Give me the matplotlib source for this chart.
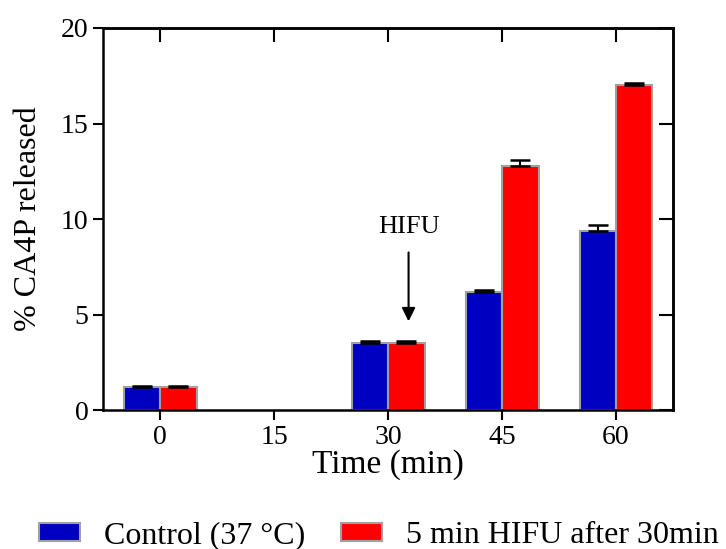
import numpy as np
import matplotlib
matplotlib.use("Agg")
import matplotlib.pyplot as plt
from matplotlib.patches import Patch

plt.rcParams['font.family'] = ['Liberation Serif', 'DejaVu Serif']

# ── data ──
times = ["0", "15", "30", "45", "60"]
control = [1.2, np.nan, 3.5, 6.2, 9.4]
control_err = [0.05, np.nan, 0.1, 0.08, 0.3]
hifu = [1.2, np.nan, 3.5, 12.8, 17.0]
hifu_err = [0.05, np.nan, 0.12, 0.3, 0.12]
labels = ["Control (37 °C)", "5 min HIFU after 30min"]

BLUE = "#0000c0"
RED = "#ff0000"
EDGE = "#a0a0a0"

fig = plt.figure(figsize=(7.26, 5.49), dpi=100)
ax = fig.add_axes([0.142, 0.253, 0.785, 0.696])

x = np.arange(len(times))
w = 0.32
for vals, errs, off, col in [(control, control_err, -w / 2, BLUE),
                             (hifu, hifu_err, w / 2, RED)]:
    vals = np.array(vals)
    errs = np.array(errs)
    ax.bar(x + off, vals, width=w, color=col, edgecolor=EDGE, linewidth=1.5, zorder=2)
    ax.errorbar(x + off, vals, yerr=[np.zeros_like(errs), errs], fmt='none',
                ecolor='k', elinewidth=1.5, capsize=7, capthick=1.8, zorder=3)

ax.set_xlim(-0.5, 4.5)
ax.set_ylim(0, 20)
ax.set_xticks(x)
ax.set_xticklabels(times)
ax.set_yticks([0, 5, 10, 15, 20])
ax.tick_params(axis='both', labelsize=20, width=1.5, length=7, direction='out')
for s in ax.spines.values():
    s.set_linewidth(1.8)

# top / right ticks pointing inward
top = ax.secondary_xaxis('top')
top.set_xticks(x)
top.tick_params(direction='in', length=10, width=1.5, labeltop=False)
top.spines['top'].set_linewidth(1.8)
right = ax.secondary_yaxis('right')
right.set_yticks([0, 5, 10, 15, 20])
right.tick_params(direction='in', length=10, width=1.5, labelright=False)
right.spines['right'].set_linewidth(1.8)

ax.set_xlabel("Time (min)", fontsize=24, labelpad=0)
ax.set_ylabel("% CA4P released", fontsize=23, labelpad=13)

# HIFU marker
ax.annotate("", xy=(2.18, 4.5), xytext=(2.18, 8.4),
            arrowprops=dict(arrowstyle='-|>', color='k', lw=1.5, mutation_scale=20))
ax.text(2.18, 9.6, "HIFU", ha='center', va='center', fontsize=19)

handles = [Patch(facecolor=BLUE, edgecolor=EDGE, linewidth=1.5),
           Patch(facecolor=RED, edgecolor=EDGE, linewidth=1.5)]
fig.legend(handles, labels, ncol=2, loc='lower center', bbox_to_anchor=(0.522, -0.055),
           frameon=False, fontsize=23, handlelength=1.3, handleheight=0.5,
           columnspacing=1.1, handletextpad=0.75)

fig.savefig("out.png", dpi=100)
